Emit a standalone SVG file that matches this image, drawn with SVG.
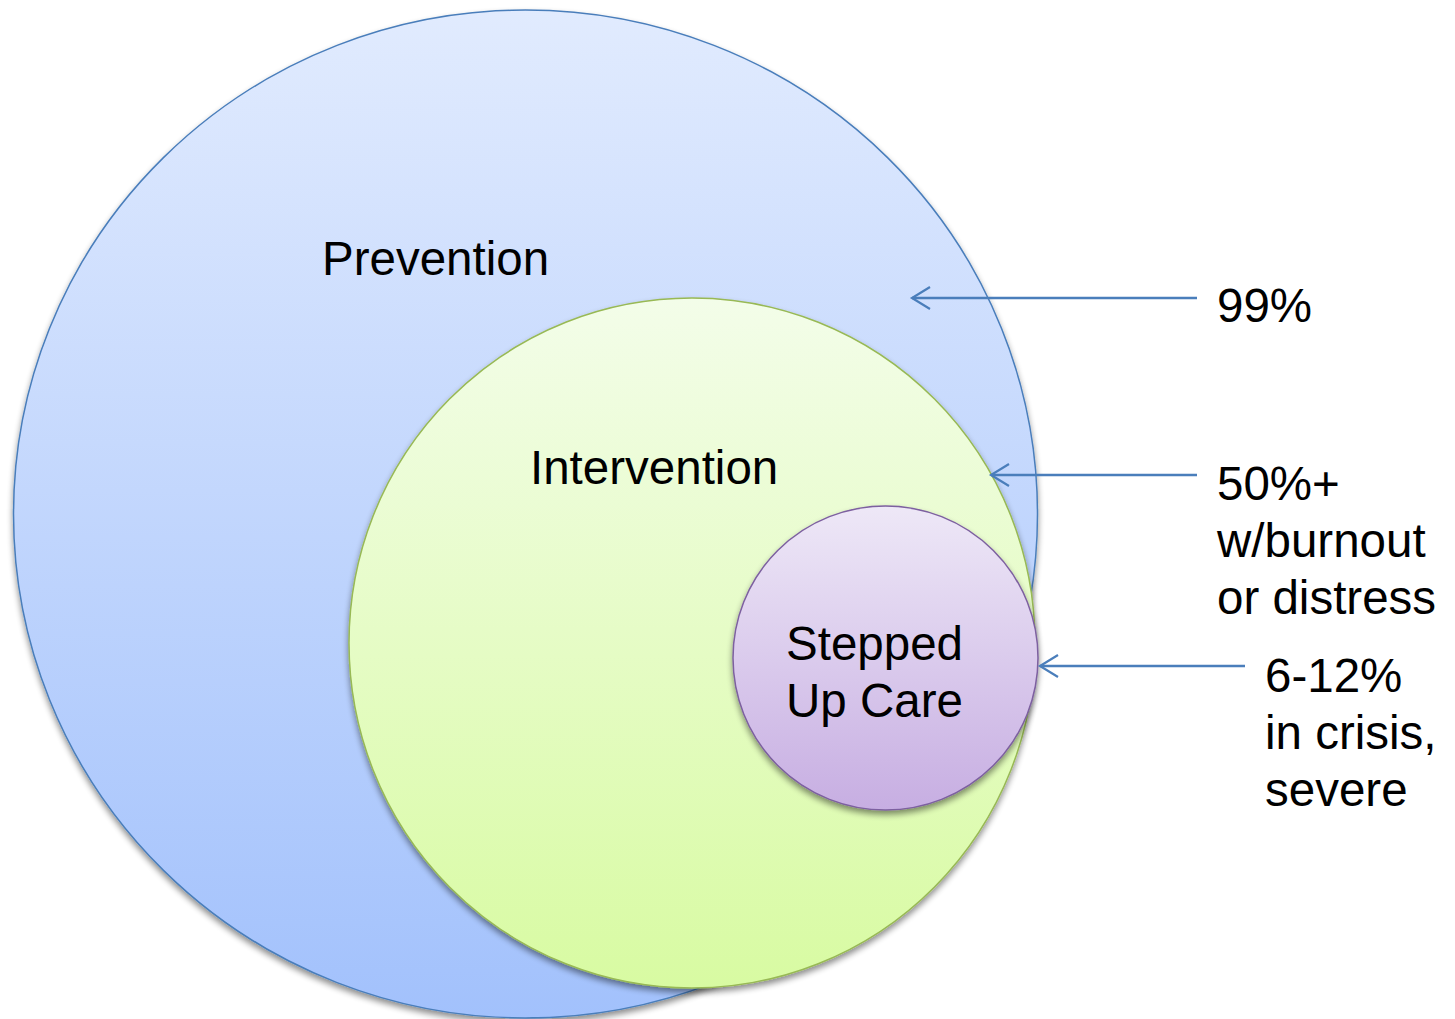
<svg xmlns="http://www.w3.org/2000/svg" width="1455" height="1019" viewBox="0 0 1455 1019">
<defs>
<linearGradient id="gBlue" x1="0" y1="0" x2="0" y2="1"><stop offset="0" stop-color="#e1ebfe"/><stop offset="1" stop-color="#a2c1fc"/></linearGradient>
<linearGradient id="gGreen" x1="0" y1="0" x2="0" y2="1"><stop offset="0" stop-color="#f3fde9"/><stop offset="1" stop-color="#d8fba2"/></linearGradient>
<linearGradient id="gPurple" x1="0" y1="0" x2="0" y2="1"><stop offset="0" stop-color="#eee8f7"/><stop offset="1" stop-color="#c7aee2"/></linearGradient>
<filter id="sh" x="-10%" y="-10%" width="120%" height="125%"><feGaussianBlur in="SourceAlpha" stdDeviation="3"/><feOffset dx="0" dy="4" result="b"/><feComponentTransfer><feFuncA type="linear" slope="0.45"/></feComponentTransfer><feMerge><feMergeNode/><feMergeNode in="SourceGraphic"/></feMerge></filter>
<marker id="arr" markerWidth="24" markerHeight="28" refX="21" refY="14" orient="auto" markerUnits="userSpaceOnUse"><path d="M3,3 L21,14 L3,25" fill="none" stroke="#4a7ebb" stroke-width="2.2"/></marker>
</defs>
<style>
text{font-family:"Liberation Sans",Arial,sans-serif;font-size:47.5px;fill:#000}
.ln{stroke:#4a7ebb;stroke-width:2.5;fill:none}
</style>
<rect width="1455" height="1019" fill="#fff"/>
<g id="prevention">
<ellipse cx="525.5" cy="514" rx="512" ry="504" fill="url(#gBlue)" stroke="#4a7ebb" stroke-width="1.5" filter="url(#sh)"/>
<text x="322" y="275">Prevention</text>
</g>
<g id="intervention">
<ellipse cx="692" cy="643" rx="343" ry="345" fill="url(#gGreen)" stroke="#98b954" stroke-width="1.5" filter="url(#sh)"/>
<text x="530" y="484">Intervention</text>
</g>
<g id="stepped">
<ellipse cx="885.5" cy="658" rx="152.5" ry="152" fill="url(#gPurple)" stroke="#7d60a0" stroke-width="1.5" filter="url(#sh)"/>
<text x="786" y="660">Stepped</text>
<text x="786" y="717">Up Care</text>
</g>
<g id="connectors">
<line class="ln" x1="1197" y1="298" x2="912" y2="298" marker-end="url(#arr)"/>
<line class="ln" x1="1197" y1="475" x2="991" y2="475" marker-end="url(#arr)"/>
<line class="ln" x1="1245" y1="666" x2="1040" y2="666" marker-end="url(#arr)"/>
</g>
<g id="label99"><text x="1217" y="322">99%</text></g>
<g id="label50">
<text x="1217" y="500">50%+</text>
<text x="1217" y="557">w/burnout</text>
<text x="1217" y="614">or distress</text>
</g>
<g id="label6">
<text x="1265" y="692">6-12%</text>
<text x="1265" y="749">in crisis,</text>
<text x="1265" y="806">severe</text>
</g>
</svg>
